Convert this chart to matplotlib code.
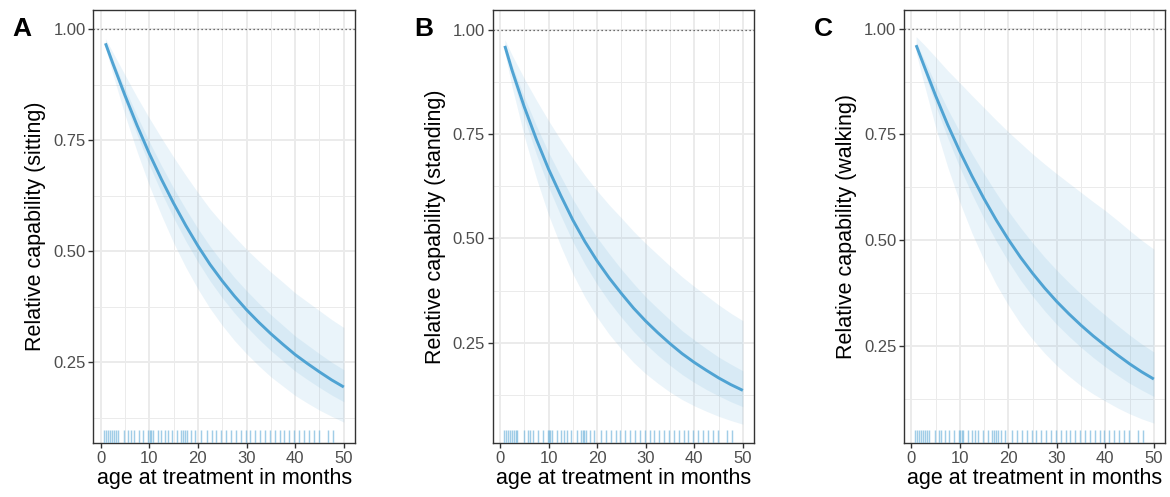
import matplotlib
matplotlib.use("Agg")
import matplotlib.pyplot as plt
from matplotlib.ticker import FixedLocator

plt.rcParams['font.family'] = ['Liberation Sans', 'DejaVu Sans']

# ---------------- data ----------------
age = [1, 2.5, 5, 7.5, 10, 12.5, 15, 17.5, 20, 22.5, 25, 27.5, 30, 32.5, 35,
       37.5, 40, 42.5, 45, 47.5, 50]

sit_mean = [0.968, 0.923, 0.851, 0.783, 0.720, 0.662, 0.608, 0.558, 0.512, 0.470, 0.433,
            0.399, 0.368, 0.340, 0.314, 0.290, 0.267, 0.247, 0.228, 0.210, 0.194]
sit_hi95 = [0.978, 0.948, 0.897, 0.847, 0.800, 0.755, 0.712, 0.671, 0.632, 0.595, 0.563,
            0.533, 0.504, 0.478, 0.453, 0.430, 0.406, 0.386, 0.366, 0.346, 0.328]
sit_lo95 = [0.958, 0.899, 0.807, 0.724, 0.648, 0.581, 0.519, 0.464, 0.415, 0.371, 0.333,
            0.299, 0.269, 0.242, 0.217, 0.196, 0.175, 0.158, 0.142, 0.128, 0.115]
sit_hi50 = [0.972, 0.932, 0.867, 0.805, 0.747, 0.693, 0.642, 0.595, 0.551, 0.511, 0.475,
            0.441, 0.411, 0.383, 0.357, 0.333, 0.309, 0.289, 0.269, 0.250, 0.233]
sit_lo50 = [0.964, 0.915, 0.836, 0.762, 0.694, 0.632, 0.575, 0.523, 0.476, 0.433, 0.395,
            0.361, 0.330, 0.302, 0.276, 0.253, 0.230, 0.211, 0.193, 0.176, 0.161]

sta_mean = [0.961, 0.902, 0.815, 0.737, 0.666, 0.603, 0.544, 0.492, 0.446, 0.405, 0.368,
            0.333, 0.302, 0.274, 0.248, 0.224, 0.203, 0.184, 0.166, 0.150, 0.136]
sta_hi95 = [0.976, 0.939, 0.883, 0.831, 0.782, 0.736, 0.692, 0.651, 0.614, 0.580, 0.549,
            0.517, 0.488, 0.461, 0.434, 0.408, 0.385, 0.363, 0.341, 0.321, 0.303]
sta_lo95 = [0.944, 0.862, 0.745, 0.644, 0.556, 0.482, 0.415, 0.359, 0.311, 0.270, 0.235,
            0.203, 0.176, 0.153, 0.132, 0.114, 0.099, 0.086, 0.074, 0.064, 0.055]
sta_hi50 = [0.967, 0.915, 0.839, 0.770, 0.706, 0.649, 0.594, 0.546, 0.502, 0.463, 0.426,
            0.392, 0.360, 0.332, 0.305, 0.279, 0.257, 0.236, 0.216, 0.199, 0.183]
sta_lo50 = [0.955, 0.887, 0.788, 0.701, 0.623, 0.555, 0.492, 0.438, 0.390, 0.348, 0.311,
            0.277, 0.247, 0.220, 0.196, 0.174, 0.155, 0.138, 0.123, 0.109, 0.097]

wal_mean = [0.961, 0.916, 0.842, 0.773, 0.710, 0.652, 0.598, 0.548, 0.502, 0.460, 0.422,
            0.387, 0.355, 0.326, 0.299, 0.274, 0.251, 0.229, 0.208, 0.189, 0.172]
wal_hi95 = [0.981, 0.964, 0.933, 0.901, 0.872, 0.842, 0.813, 0.784, 0.756, 0.730, 0.704,
            0.680, 0.657, 0.635, 0.613, 0.591, 0.570, 0.547, 0.523, 0.500, 0.479]
wal_lo95 = [0.943, 0.875, 0.768, 0.673, 0.590, 0.517, 0.453, 0.396, 0.347, 0.303, 0.266,
            0.233, 0.204, 0.179, 0.156, 0.137, 0.120, 0.104, 0.090, 0.078, 0.068]
wal_hi50 = [0.967, 0.931, 0.869, 0.810, 0.756, 0.705, 0.657, 0.612, 0.569, 0.530, 0.494,
            0.460, 0.429, 0.400, 0.373, 0.347, 0.323, 0.299, 0.276, 0.255, 0.236]
wal_lo50 = [0.956, 0.904, 0.819, 0.742, 0.672, 0.609, 0.551, 0.498, 0.450, 0.406, 0.368,
            0.333, 0.301, 0.273, 0.247, 0.223, 0.201, 0.181, 0.162, 0.146, 0.131]

rug_ages = [0.8, 1.2, 1.6, 2.0, 2.4, 2.8, 3.2, 3.6, 4.9, 5.7, 6.2, 6.9, 7.8, 8.8,
            9.8, 10.1, 10.4, 10.7, 11.7, 12.5, 13.2, 13.8, 14.7, 15.8, 16.6, 17.0,
            17.4, 17.8, 18.5, 19.4, 20.7, 21.8, 22.8, 23.8, 24.8, 25.8, 26.8, 27.8,
            28.8, 29.8, 30.8, 31.8, 32.8, 33.8, 34.8, 35.8, 36.8, 37.8, 38.8, 39.8,
            40.8, 41.8, 42.8, 43.8, 44.8, 46.7, 47.8]

panel_letters = ["A", "B", "C"]
y_titles = ["Relative capability (sitting)", "Relative capability (standing)",
            "Relative capability (walking)"]
x_title = "age at treatment in months"
x_ticks = [0, 10, 20, 30, 40, 50]
y_ticks = [0.25, 0.50, 0.75, 1.00]

panels = [
    (sit_mean, sit_lo95, sit_hi95, sit_lo50, sit_hi50),
    (sta_mean, sta_lo95, sta_hi95, sta_lo50, sta_hi50),
    (wal_mean, wal_lo95, wal_hi95, wal_lo50, wal_hi50),
]

# ---------------- layout / style ----------------
W, H = 1170, 497
fig = plt.figure(figsize=(W / 100, H / 100), dpi=100)

ax_left_px = [93.3, 492.7, 904.0]
ax_right_px = [355.0, 754.0, 1165.0]
ax_top_px, ax_bot_px = 10.0, 443.0
ylims = [(0.068, 1.043), (0.010, 1.047), (0.021, 1.044)]
letter_x_px = [12, 414, 814]

line_col = "#4fa3d3"
band_col = "#5aa9d6"
rug_col = "#6fb3db"
grid_col = "#ebebeb"
border_col = "#333333"
tick_col = "#4d4d4d"

for i, (mean, lo95, hi95, lo50, hi50) in enumerate(panels):
    l = ax_left_px[i] / W
    w = (ax_right_px[i] - ax_left_px[i]) / W
    b = (H - ax_bot_px) / H
    h = (ax_bot_px - ax_top_px) / H
    ax = fig.add_axes([l, b, w, h])

    ax.set_xlim(-1.5, 52.3)
    ax.set_ylim(*ylims[i])

    ax.xaxis.set_major_locator(FixedLocator(x_ticks))
    ax.xaxis.set_minor_locator(FixedLocator([5, 15, 25, 35, 45]))
    ax.yaxis.set_major_locator(FixedLocator(y_ticks))
    ax.yaxis.set_minor_locator(FixedLocator([0.125, 0.375, 0.625, 0.875]))
    ax.set_yticklabels([f"{v:.2f}" for v in y_ticks])
    ax.grid(which="major", color=grid_col, lw=1.4, zorder=0)
    ax.grid(which="minor", color=grid_col, lw=0.7, zorder=0)
    ax.set_axisbelow(True)

    ax.axhline(1.0, color="#444444", lw=0.9, ls=(0, (1, 2.2)), zorder=1)

    ax.fill_between(age, lo95, hi95, color=band_col, alpha=0.12, lw=0, zorder=2)
    ax.fill_between(age, lo50, hi50, color=band_col, alpha=0.12, lw=0, zorder=2)
    ax.plot(age, mean, color=line_col, lw=2.1, zorder=3, solid_capstyle="butt",
            solid_joinstyle="round")

    ax.vlines(rug_ages, 0, 0.03, transform=ax.get_xaxis_transform(),
              color=rug_col, alpha=0.65, lw=1.05, zorder=3)

    for s in ax.spines.values():
        s.set_color(border_col)
        s.set_linewidth(1.0)
    ax.tick_params(which="major", length=3.5, width=1.0, color=border_col,
                   labelcolor=tick_col, labelsize=12, pad=2)
    ax.tick_params(which="minor", length=0)

    ax.set_xlabel(x_title, fontsize=15.5, color="black", labelpad=2)
    ax.set_ylabel(y_titles[i], fontsize=15.5, color="black", labelpad=5)

    fig.text(letter_x_px[i] / W, 1 - 29 / H, panel_letters[i], fontsize=19,
             fontweight="bold", ha="left", va="center")

fig.savefig("out.png", dpi=100)
